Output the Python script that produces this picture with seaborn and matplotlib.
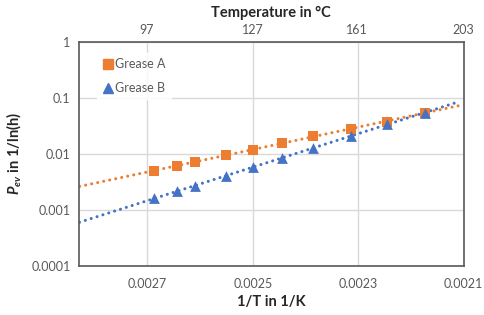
import numpy as np
import pandas as pd
import seaborn as sns
import matplotlib.pyplot as plt
from matplotlib.lines import Line2D

# 1/T values (1/K) of the measurements
inv_T = [0.002688, 0.002644, 0.002610, 0.002550, 0.002500,
         0.002444, 0.002386, 0.002313, 0.002246, 0.002173]
grease_a = [0.00502, 0.00608, 0.00718, 0.00944, 0.01174,
            0.01545, 0.0203, 0.0281, 0.0375, 0.0542]
grease_b = [0.00159, 0.00215, 0.00268, 0.00404, 0.00577,
            0.00845, 0.01259, 0.0208, 0.0334, 0.0542]

x_ticks = [0.0027, 0.0025, 0.0023, 0.0021]
x_labels = ["0.0027", "0.0025", "0.0023", "0.0021"]
y_ticks = [0.0001, 0.001, 0.01, 0.1, 1]
y_labels = ["0.0001", "0.001", "0.01", "0.1", "1"]
top_temps = [97, 127, 161, 203]

orange = "#ED7D31"
blue = "#4472C4"

sns.set_style("white")
plt.rcParams['font.family'] = ['Lato', 'DejaVu Sans']
plt.rcParams['mathtext.fontset'] = 'custom'
plt.rcParams['mathtext.bf'] = 'Lato:bold'
plt.rcParams['mathtext.bfit'] = 'Lato:bold:italic'
plt.rcParams['mathtext.it'] = 'Lato:italic'

df = pd.DataFrame({
    'inv_T': inv_T * 2,
    'P': grease_a + grease_b,
    'Grease': ['Grease A'] * len(inv_T) + ['Grease B'] * len(inv_T),
})

# exponential trend lines (Excel style), extended over the axis
trend_x = np.linspace(0.00284, 0.00211, 120)
rows = []
for name, vals in [('Grease A', grease_a), ('Grease B', grease_b)]:
    k, b = np.polyfit(inv_T, np.log10(vals), 1)
    for xv in trend_x:
        rows.append((xv, 10 ** (k * xv + b), name))
trend = pd.DataFrame(rows, columns=['inv_T', 'P', 'Grease'])

fig = plt.figure(figsize=(4.84, 3.15), dpi=100)
ax = fig.add_axes([0.163, 0.156, 0.795, 0.712])

for name, col in [('Grease A', orange), ('Grease B', blue)]:
    sns.lineplot(data=trend[trend.Grease == name], x='inv_T', y='P', color=col,
                 linewidth=2.2, linestyle=(0, (0.01, 2.0)), dash_capstyle='round',
                 sort=False, estimator=None, ax=ax, zorder=2)

sns.scatterplot(data=df[df.Grease == 'Grease A'], x='inv_T', y='P', marker='s',
                color=orange, s=45, linewidth=0, ax=ax, zorder=3)
sns.scatterplot(data=df[df.Grease == 'Grease B'], x='inv_T', y='P', marker='^',
                color=blue, s=60, linewidth=0, ax=ax, zorder=3)

ax.set_yscale('log')
ax.set_ylim(0.0001, 1)
ax.set_xlim(0.00283, 0.0021)
ax.set_yticks(y_ticks)
ax.set_yticklabels(y_labels)
ax.yaxis.set_minor_locator(plt.NullLocator())
ax.set_xticks(x_ticks)
ax.set_xticklabels(x_labels)
ax.grid(True, color='#D9D9D9', linewidth=1)
ax.set_axisbelow(True)
ax.tick_params(axis='both', length=0, labelsize=9, labelcolor='#595959', pad=6)
ax.tick_params(axis='x', pad=9)
for sp in ax.spines.values():
    sp.set_color('#595959')
    sp.set_linewidth(1.2)

ax.set_xlabel('1/T in 1/K', fontsize=10.5, fontweight='bold', labelpad=3)
ax.set_ylabel(r'$\mathbfit{P}_{\mathbfit{ev}}$ in 1/ln(h)', fontsize=10.5,
              fontweight='bold', labelpad=6)

top = ax.twiny()
top.set_xlim(ax.get_xlim())
top.set_xticks([1 / (t + 273.15) for t in top_temps])
top.set_xticklabels([str(t) for t in top_temps])
top.tick_params(axis='x', length=0, labelsize=9, labelcolor='#595959', pad=4)
for sp in top.spines.values():
    sp.set_visible(False)
top.set_xlabel('Temperature in °C', fontsize=10.5, fontweight='bold', labelpad=5)

handles = [
    Line2D([], [], marker='s', color=orange, linestyle='none', markersize=6.5),
    Line2D([], [], marker='^', color=blue, linestyle='none', markersize=7.5),
]
leg = ax.legend(handles, ['Grease A', 'Grease B'], loc='upper left',
                bbox_to_anchor=(0.03, 0.975), frameon=True, fontsize=9,
                labelspacing=0.95, handletextpad=0.1, handlelength=1.0,
                borderpad=0.4, fancybox=False)
leg.get_frame().set_facecolor('white')
leg.get_frame().set_edgecolor('white')
for t in leg.get_texts():
    t.set_color('#595959')

plt.savefig('out.png', dpi=100)
